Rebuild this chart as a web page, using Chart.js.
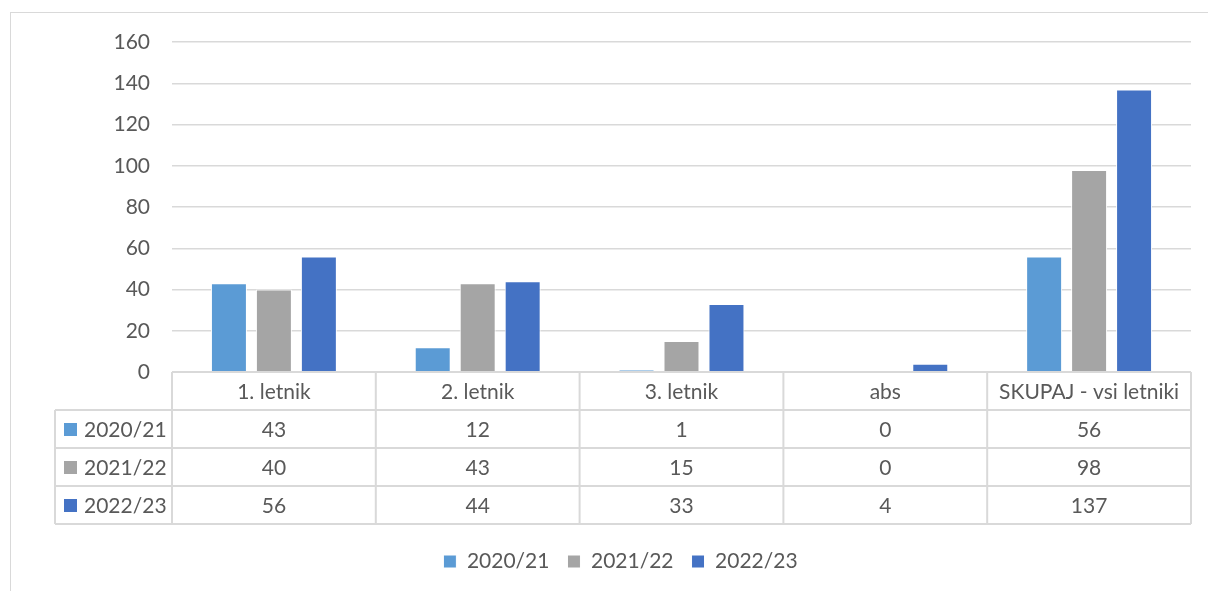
<!DOCTYPE html>
<html lang="sl">
<head>
<meta charset="UTF-8">
<title>Letniki</title>
<script src="https://cdn.jsdelivr.net/npm/chart.js"></script>
<style>
  html, body { margin: 0; padding: 0; background: #fff; overflow: hidden; }
  #wrap { position: relative; width: 1208px; height: 591px; }
  #frame { position: absolute; left: 10px; top: 12px; width: 1400px; height: 800px; border: 1.5px solid #d9d9d9; }
  #chart { position: absolute; left: 0; top: 0; }
</style>
</head>
<body>
<div id="wrap">
  <div id="frame"></div>
  <canvas id="chart" width="1208" height="591"></canvas>
</div>
<script>
const categories = ['1. letnik', '2. letnik', '3. letnik', 'abs', 'SKUPAJ - vsi letniki'];
const seriesNames = ['2020/21', '2021/22', '2022/23'];
const values2021 = [43, 12, 1, 0, 56];
const values2122 = [40, 43, 15, 0, 98];
const values2223 = [56, 44, 33, 4, 137];
const yTicks = [0, 20, 40, 60, 80, 100, 120, 140, 160];

const colors = ['#5B9BD5', '#A5A5A5', '#4472C4'];
const textColor = '#595959';
const lineColor = '#d9d9d9';
const font = 'Lato';
const fontSize = 21;

Chart.defaults.font.family = font;
Chart.defaults.font.size = fontSize;
Chart.defaults.color = textColor;

// tabela s podatki pod grafom
const dataTable = {
  id: 'dataTable',
  afterDraw(chart) {
    const ctx = chart.ctx;
    const x = chart.scales.x;
    const area = chart.chartArea;
    const rowH = 38;
    const top = area.bottom;
    const left = 55;
    const n = categories.length;
    const edges = [];
    for (let i = 0; i <= n; i++) edges.push(x.getPixelForValue(i - 0.5));
    const sets = chart.data.datasets;
    const bottom = top + rowH * (sets.length + 1);

    ctx.save();
    ctx.strokeStyle = lineColor;
    ctx.lineWidth = 2;
    ctx.beginPath();
    // horizontale
    ctx.moveTo(edges[0], top); ctx.lineTo(edges[n], top);
    for (let r = 1; r <= sets.length + 1; r++) {
      ctx.moveTo(left, top + r * rowH); ctx.lineTo(edges[n], top + r * rowH);
    }
    // vertikale
    edges.forEach(e => { ctx.moveTo(e, top); ctx.lineTo(e, bottom); });
    ctx.moveTo(left, top + rowH); ctx.lineTo(left, bottom);
    ctx.stroke();

    ctx.fillStyle = textColor;
    ctx.font = fontSize + 'px ' + font;
    ctx.textAlign = 'center';
    ctx.textBaseline = 'middle';
    categories.forEach((c, i) => {
      ctx.fillText(c, x.getPixelForValue(i), top + rowH / 2 + 1);
    });
    sets.forEach((ds, r) => {
      const cy = top + (r + 1.5) * rowH + 1;
      ds.data.forEach((v, i) => {
        ctx.fillText(String(v), x.getPixelForValue(i), cy);
      });
      ctx.fillStyle = ds.backgroundColor;
      ctx.fillRect(64, cy - 7, 13, 13);
      ctx.fillStyle = textColor;
      ctx.textAlign = 'left';
      ctx.fillText(ds.label, 84, cy);
      ctx.textAlign = 'center';
    });
    ctx.restore();
  }
};

const allValues = [values2021, values2122, values2223];

new Chart(document.getElementById('chart'), {
  type: 'bar',
  data: {
    labels: categories,
    datasets: seriesNames.map((name, i) => ({
      label: name,
      data: allValues[i],
      backgroundColor: colors[i],
      borderColor: '#ffffff',
      borderWidth: 1,
      categoryPercentage: 0.662,
      barPercentage: 0.8
    }))
  },
  options: {
    responsive: false,
    animation: false,
    layout: { padding: { top: 42, right: 17, left: 50, bottom: 9 } },
    scales: {
      x: {
        ticks: { display: false },
        grid: { display: false },
        border: { display: false },
        afterFit(s) { s.height = 161; }
      },
      y: {
        min: 0,
        max: 160,
        afterBuildTicks(s) { s.ticks = yTicks.map(v => ({ value: v })); },
        ticks: { padding: 22, color: textColor, font: { size: fontSize } },
        grid: { color: lineColor, lineWidth: 1.5, drawTicks: false },
        border: { display: false },
        afterFit(s) { s.width = 122; }
      }
    },
    plugins: {
      legend: {
        position: 'bottom',
        labels: { boxWidth: 13, boxHeight: 13, padding: 18, color: textColor, font: { size: fontSize } }
      },
      tooltip: { enabled: false }
    }
  },
  plugins: [dataTable]
});
</script>
</body>
</html>
